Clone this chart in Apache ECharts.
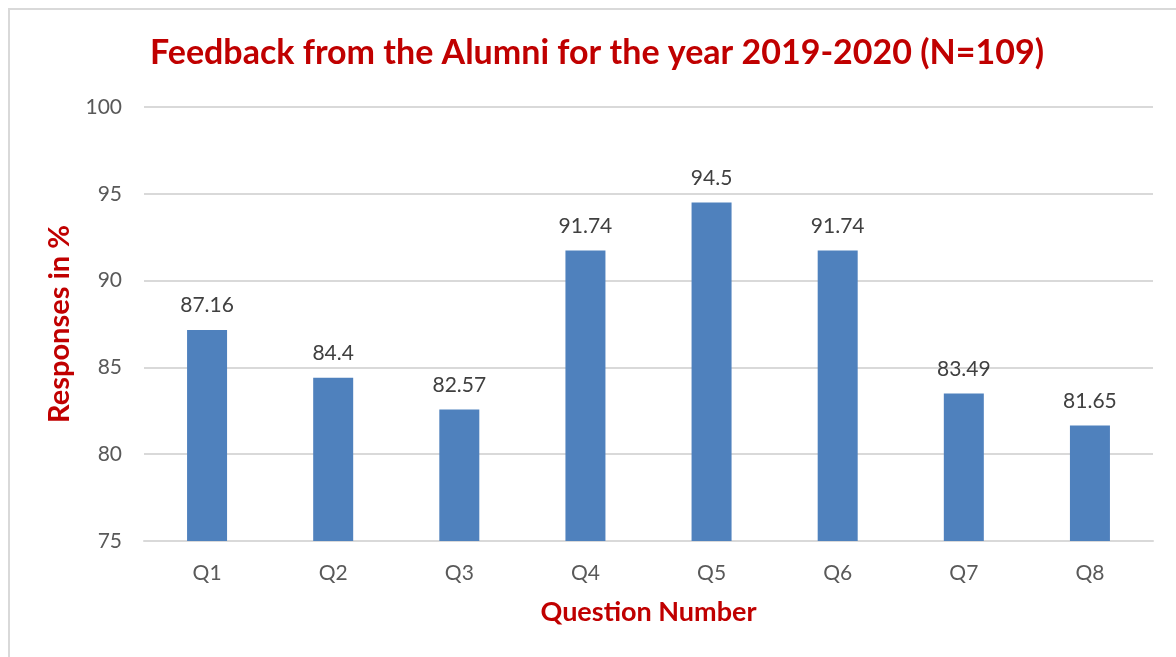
<!DOCTYPE html>
<html><head><meta charset="utf-8">
<script src="https://cdn.jsdelivr.net/npm/echarts@6/dist/echarts.min.js"></script>
<style>html,body{margin:0;padding:0;background:#fff}#c{width:1176px;height:657px}</style>
</head><body><div id="c"></div>
<script>
const categories = ['Q1','Q2','Q3','Q4','Q5','Q6','Q7','Q8'];
const values = [87.16, 84.4, 82.57, 91.74, 94.5, 91.74, 83.49, 81.65];
const yTicks = {min: 75, max: 100, interval: 5};
const titleText = 'Feedback from the Alumni for the year 2019-2020 (N=109)';
const yName = 'Responses in %';
const xName = 'Question Number';

const chart = echarts.init(document.getElementById('c'), null, {renderer: 'canvas'});
const FONT = 'Lato';
chart.setOption({
  animation: false,
  backgroundColor: '#fff',
  graphic: [{
    type: 'rect', shape: {x: 9, y: 9, width: 1200, height: 700},
    style: {fill: 'none', stroke: '#d9d9d9', lineWidth: 2}, silent: true
  }],
  title: {
    text: titleText, left: 592, top: 31, textAlign: 'center',
    textStyle: {fontFamily: FONT, fontWeight: 'bold', fontSize: 34, color: '#C00000'}
  },
  grid: {left: 144, right: 23, top: 107, bottom: 116, containLabel: false},
  xAxis: {
    type: 'category', data: categories,
    name: xName, nameLocation: 'middle', nameGap: 58,
    nameTextStyle: {fontFamily: FONT, fontWeight: 'bold', fontSize: 27, color: '#C00000'},
    axisLine: {lineStyle: {color: '#d9d9d9', width: 2}},
    axisTick: {show: false},
    axisLabel: {fontFamily: FONT, fontSize: 21, color: '#595959', margin: 22}
  },
  yAxis: {
    type: 'value', min: yTicks.min, max: yTicks.max, interval: yTicks.interval,
    name: yName, nameLocation: 'middle', nameGap: 69, nameRotate: 90,
    nameTextStyle: {fontFamily: FONT, fontWeight: 'bold', fontSize: 29, color: '#C00000'},
    axisLine: {show: false}, axisTick: {show: false},
    splitLine: {lineStyle: {color: '#d9d9d9', width: 2}},
    axisLabel: {fontFamily: FONT, fontSize: 21, color: '#595959', margin: 22}
  },
  series: [{
    type: 'bar', data: values, barWidth: 40,
    itemStyle: {color: '#4F81BD'},
    label: {show: true, position: 'top', distance: 14, fontFamily: FONT, fontSize: 21, color: '#404040'}
  }]
});
</script></body></html>
